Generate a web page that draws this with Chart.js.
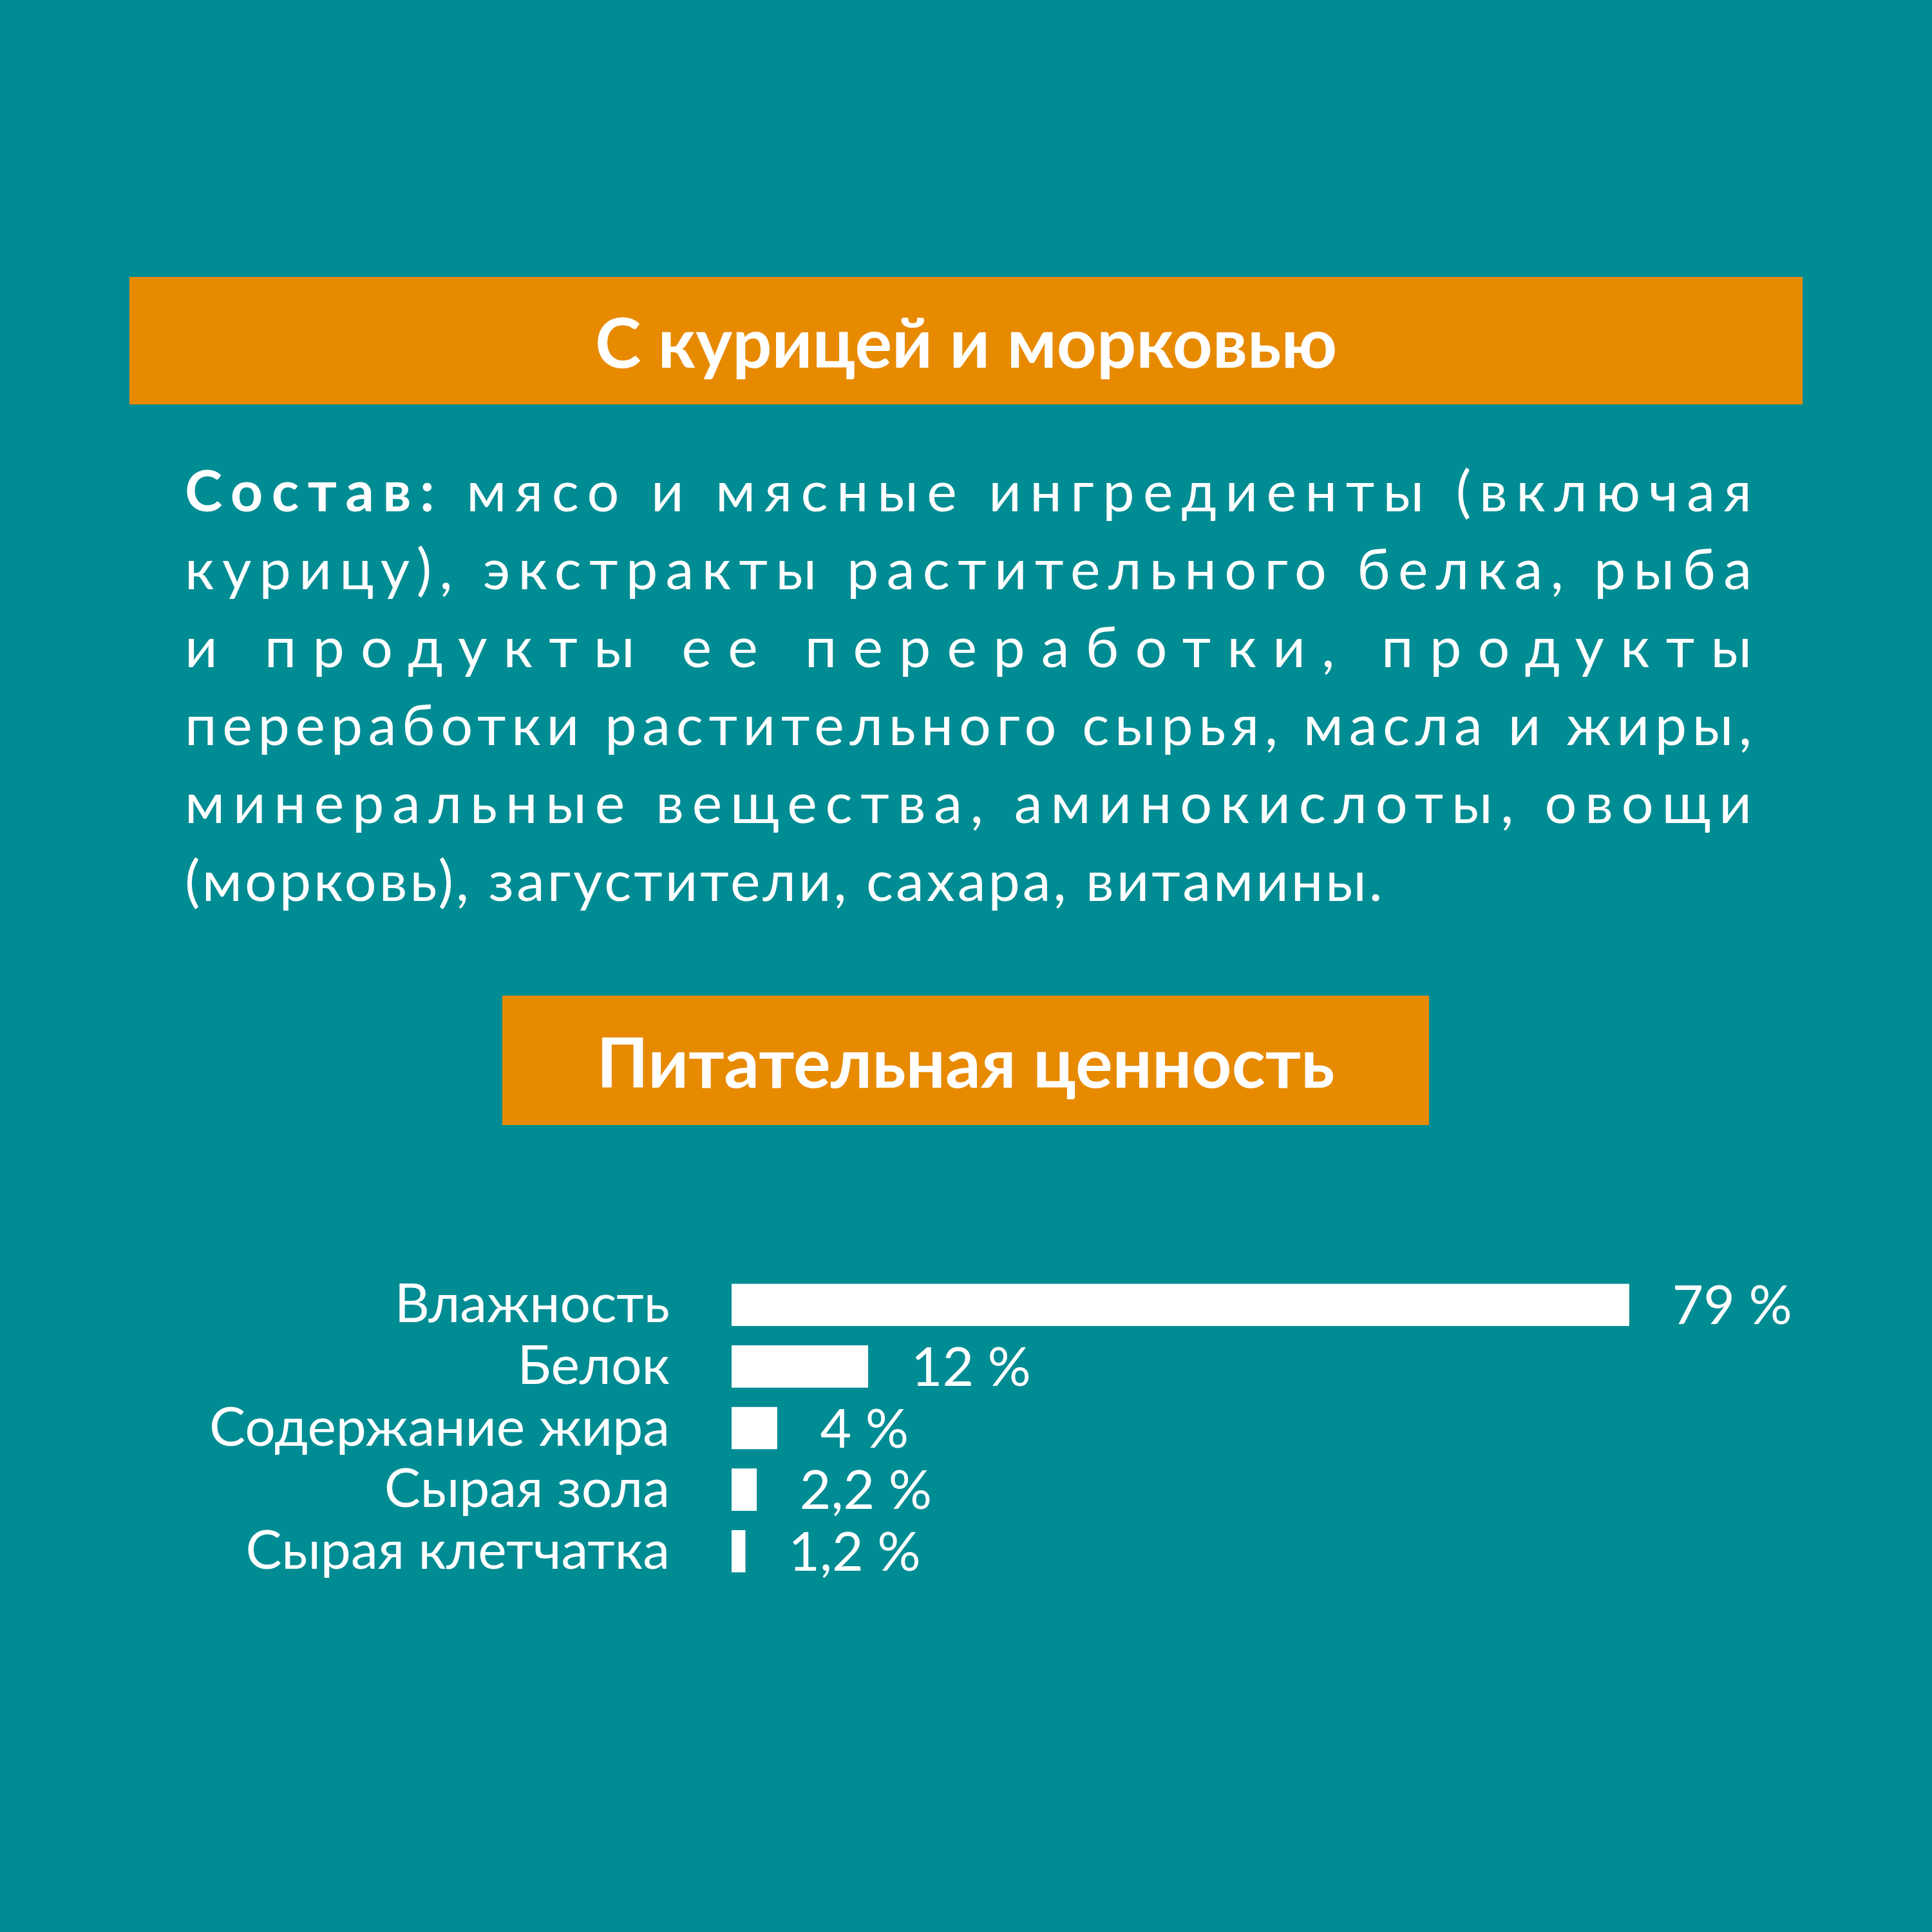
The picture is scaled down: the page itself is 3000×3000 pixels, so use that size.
<!DOCTYPE html>
<html><head><meta charset="utf-8">
<script src="https://cdn.jsdelivr.net/npm/chart.js@4/dist/chart.umd.min.js"></script>
<style>
body{margin:0;width:3000px;height:3000px;background:#008C93;position:relative;overflow:hidden;font-family:Lato,"Open Sans",sans-serif;color:#fff}
.ban{position:absolute;background:#E88A00;display:flex;align-items:center;justify-content:center;font-weight:700;font-size:108px}
#para{position:absolute;left:287px;top:700px;width:2433px;font-size:88px;line-height:121px}
#para div{white-space:nowrap}
#para span{display:inline-block}
#para b{font-weight:700}
#c{position:absolute;left:0;top:1840px}
</style></head><body>
<div class="ban" style="left:201px;top:430px;width:2598px;height:198px">С курицей и морковью</div>
<div id="para">
<div><span><b>Состав:</b> мясо и мясные ингредиенты (включая</span></div>
<div><span>курицу), экстракты растительного белка, рыба</span></div>
<div><span>и продукты ее переработки, продукты</span></div>
<div><span>переработки растительного сырья, масла и жиры,</span></div>
<div><span>минеральные вещества, аминокислоты, овощи</span></div>
<div class="last"><span style="letter-spacing:4px">(морковь), загустители, сахара, витамины.</span></div>
</div>
<div class="ban" style="left:780px;top:1546px;width:1439px;height:201px">Питательная ценность</div>
<canvas id="c" width="3000" height="755" style="width:3000px;height:755px"></canvas>
<script>
const categories=["Влажность","Белок","Содержание жира","Сырая зола","Сырая клетчатка"];
const values=[79,12,4,2.2,1.2];
const valueLabels=["79 %","12 %","4 %","2,2 %","1,2 %"];
document.querySelectorAll('#para div:not(.last) span').forEach(s=>{
  const n=s.textContent.length;
  const w=s.getBoundingClientRect().width;
  s.style.letterSpacing=((2433-w)/(n-1))+'px';
});
const font='Lato, "Open Sans", sans-serif';
new Chart(document.getElementById('c'),{
 type:'bar',
 data:{labels:categories,datasets:[{data:values,backgroundColor:'#fff',barThickness:65,borderWidth:0}]},
 options:{indexAxis:'y',responsive:false,devicePixelRatio:1,animation:false,
  layout:{padding:{top:0,bottom:0,left:0,right:100}},
  plugins:{legend:{display:false},tooltip:{enabled:false}},
  scales:{
   x:{display:false,min:0,max:100},
   y:{grid:{display:false},border:{display:false},
      ticks:{color:'#fff',font:{family:font,size:84},padding:88},
      afterFit(s){s.width=1136;}}
  }},
 plugins:[{id:'vl',afterDatasetsDraw(ch){
   const ctx=ch.ctx,m=ch.getDatasetMeta(0);
   ctx.save();ctx.fillStyle='#fff';ctx.font='84px '+font;ctx.textBaseline='middle';
   m.data.forEach((b,i)=>ctx.fillText(valueLabels[i],b.x+67,b.y+3));
   ctx.restore();}}]
});
</script></body></html>
